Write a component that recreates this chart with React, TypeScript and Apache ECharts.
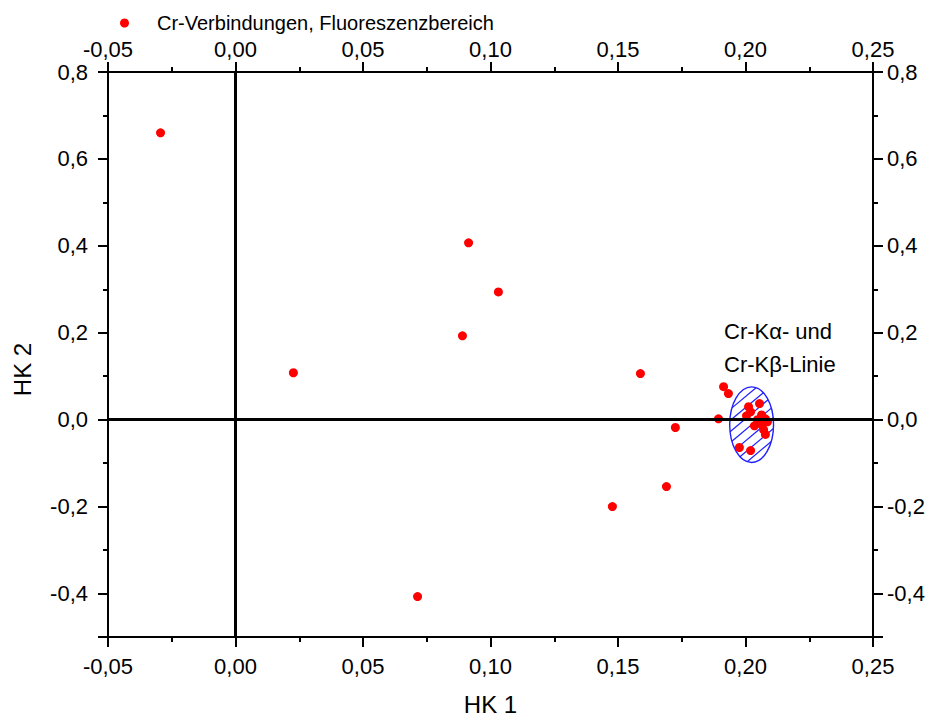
import React, { useEffect, useRef } from "react";
import * as echarts from "echarts";

const seriesName = "Cr-Verbindungen, Fluoreszenzbereich";
const hk1 = [
  -0.0294, 0.0914, 0.1031, 0.089, 0.0227, 0.1588, 0.1725, 0.169, 0.1478, 0.0714,
  0.1914, 0.1933, 0.1894, 0.2055, 0.2012, 0.202, 0.2004, 0.2063, 0.2078, 0.2047,
  0.2086, 0.2035, 0.2063, 0.2071, 0.2078, 0.1976, 0.202,
];
const hk2 = [
  0.66, 0.407, 0.294, 0.193, 0.108, 0.106, -0.018, -0.154, -0.2, -0.407,
  0.076, 0.06, 0.002, 0.037, 0.03, 0.018, 0.009, 0.011, 0.002, 0.0,
  -0.005, -0.014, -0.011, -0.023, -0.034, -0.064, -0.071,
];
const ellipseCenter = [0.2024, -0.0115];
const ellipseRadii = [0.0086, 0.087];
const annotationLines = ["Cr-K\u03b1- und", "Cr-K\u03b2-Linie"];
const xTitle = "HK 1";
const yTitle = "HK 2";

const FONT = "'Liberation Sans', Arial, Helvetica, sans-serif";

const fmt = (digits: number) => (v: number) => {
  if (Math.abs(v) < 1e-9) v = 0;
  return v.toFixed(digits).replace(".", ",");
};

export default function App() {
  const ref = useRef<HTMLDivElement>(null);
  useEffect(() => {
    if (!ref.current) return;
    const chart = echarts.init(ref.current, null, { renderer: "svg" });
    const lineStyle = { color: "#000", width: 2 };
    const xBase = (pos: "bottom" | "top", margin: number) => ({
      type: "value",
      position: pos,
      min: -0.05,
      max: 0.25,
      interval: 0.05,
      axisLine: { show: true, onZero: false, lineStyle },
      axisTick: { show: true, inside: false, length: 10, lineStyle },
      minorTick: { show: true, splitNumber: 2, length: 5, lineStyle },
      splitLine: { show: false },
      minorSplitLine: { show: false },
      axisLabel: { fontSize: 22, color: "#000", fontFamily: FONT, margin, formatter: fmt(2) },
    });
    const yFmt = (v: number) => (Math.abs(v + 0.5) < 1e-9 ? "" : fmt(1)(v));
    const yBase = (pos: "left" | "right", margin: number) => ({
      type: "value",
      position: pos,
      min: -0.5,
      max: 0.8,
      splitNumber: 6,
      minInterval: 0.2,
      maxInterval: 0.2,
      axisLine: { show: true, onZero: false, lineStyle },
      axisTick: { show: true, inside: false, length: 10, lineStyle },
      minorTick: { show: true, splitNumber: 2, length: 5, lineStyle },
      splitLine: { show: false },
      minorSplitLine: { show: false },
      axisLabel: { fontSize: 22, color: "#000", fontFamily: FONT, margin, formatter: yFmt, showMinLabel: false },
    });

    const points = hk1.map((x, i) => [x, hk2[i]]);

    chart.setOption({
      animation: false,
      backgroundColor: "#fff",
      textStyle: { fontFamily: FONT },
      grid: { left: 108, right: 57, top: 72, bottom: 85, containLabel: false },
      legend: {
        data: [seriesName],
        left: 115,
        top: 8,
        icon: "circle",
        itemWidth: 9,
        itemHeight: 9,
        textStyle: { fontSize: 20, color: "#000", fontFamily: FONT, padding: [0, 0, 0, 23] },
      },
      xAxis: [
        {
          ...xBase("bottom", 18),
          name: xTitle,
          nameLocation: "middle",
          nameGap: 55,
          nameTextStyle: { fontSize: 24, color: "#000", fontFamily: FONT },
        },
        xBase("top", 12),
      ],
      yAxis: [
        {
          ...yBase("left", 20),
          name: yTitle,
          nameLocation: "middle",
          nameGap: 74,
          nameTextStyle: { fontSize: 24, color: "#000", fontFamily: FONT, padding: [0, 30, 0, 0] },
        },
        yBase("right", 14),
      ],
      graphic: annotationLines.map((t, i) => ({
        type: "text",
        left: 724,
        top: 320 + i * 33,
        style: { text: t, fontSize: 22, fill: "#000", fontFamily: FONT },
        z: 10,
      })),
      series: [
        {
          name: "zero",
          type: "line",
          data: [],
          z: 1,
          silent: true,
          markLine: {
            silent: true,
            symbol: ["none", "none"],
            label: { show: false },
            lineStyle: { color: "#000", width: 3, type: "solid", opacity: 1 },
            data: [{ xAxis: 0 }, { yAxis: 0 }],
          },
        },
        {
          name: "ellipse",
          type: "custom",
          z: 2,
          silent: true,
          encode: { x: 0, y: 1 },
          data: [[ellipseCenter[0], ellipseCenter[1], ellipseRadii[0], ellipseRadii[1]]],
          renderItem: (params: any, api: any) => {
            const c = api.coord([api.value(0), api.value(1)]);
            const rx = Math.abs(api.size([api.value(2), 0])[0]);
            const ry = Math.abs(api.size([0, api.value(3)])[1]);
            const th = (40 * Math.PI) / 180;
            const ux = Math.cos(th), uy = -Math.sin(th);
            const nx = Math.sin(th), ny = Math.cos(th);
            const A = (ux * ux) / (rx * rx) + (uy * uy) / (ry * ry);
            const D = Math.sqrt((rx * nx) ** 2 + (ry * ny) ** 2);
            const step = 8.5;
            const children: any[] = [];
            const kMax = Math.floor(D / step);
            for (let k = -kMax; k <= kMax; k++) {
              const d = k * step;
              const B = 2 * d * ((nx * ux) / (rx * rx) + (ny * uy) / (ry * ry));
              const C = d * d * ((nx * nx) / (rx * rx) + (ny * ny) / (ry * ry)) - 1;
              const disc = B * B - 4 * A * C;
              if (disc <= 0) continue;
              const s = Math.sqrt(disc);
              const t1 = (-B - s) / (2 * A);
              const t2 = (-B + s) / (2 * A);
              children.push({
                type: "line",
                shape: {
                  x1: c[0] + d * nx + t1 * ux,
                  y1: c[1] + d * ny + t1 * uy,
                  x2: c[0] + d * nx + t2 * ux,
                  y2: c[1] + d * ny + t2 * uy,
                },
                style: { stroke: "#1f1fff", lineWidth: 1.2 },
              });
            }
            const p = `M ${c[0] - rx} ${c[1]} A ${rx} ${ry} 0 1 0 ${c[0] + rx} ${c[1]} A ${rx} ${ry} 0 1 0 ${c[0] - rx} ${c[1]} Z`;
            children.push({
              type: "path",
              shape: { pathData: p },
              style: { fill: "none", stroke: "#1f1fff", lineWidth: 1.4 },
            });
            return { type: "group", children };
          },
        },
        {
          name: seriesName,
          type: "scatter",
          z: 3,
          symbol: "circle",
          symbolSize: 9,
          itemStyle: { color: "#ff0000", opacity: 1 },
          data: points,
        },
      ],
    });
    return () => chart.dispose();
  }, []);
  return (
    <div
      ref={ref}
      style={{ position: "fixed", left: 0, top: 0, width: 930, height: 722, background: "#fff" }}
    />
  );
}
